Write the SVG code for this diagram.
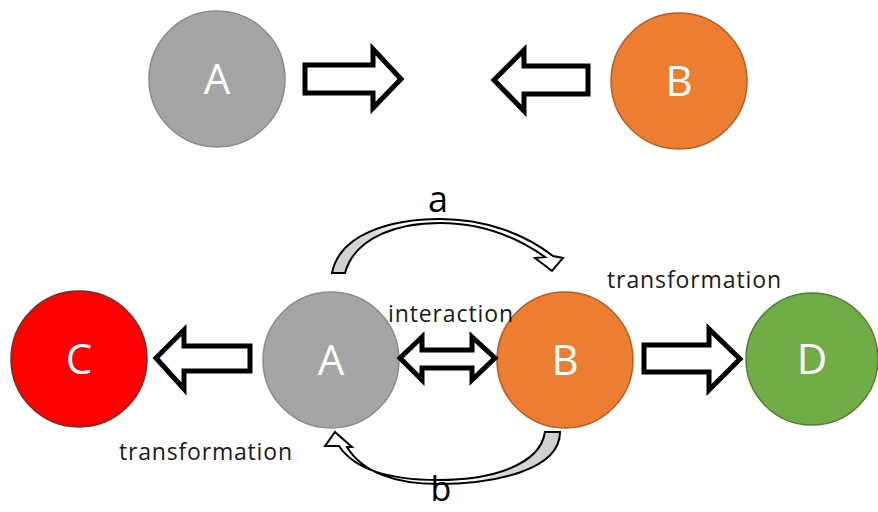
<svg xmlns="http://www.w3.org/2000/svg" width="878" height="512" viewBox="0 0 878 512">
<defs>
<style>
.node-label{font-family:"Open Sans","Liberation Sans",sans-serif;font-size:42px;fill:#ffffff;text-anchor:middle}
.lbl{font-family:"Open Sans","Liberation Sans",sans-serif;font-size:23px;fill:#1a1a1a}
.big{font-family:"Open Sans","Liberation Sans",sans-serif;font-size:36px;fill:#000000;text-anchor:middle}
.block{fill:#ffffff;stroke:#000000;stroke-width:5;stroke-linejoin:miter}
.curve{stroke:#000000;stroke-width:2;stroke-linejoin:miter}
</style>
<linearGradient id="ga" x1="0" y1="0" x2="1" y2="0">
<stop offset="0" stop-color="#cfcfcf"/>
<stop offset="0.18" stop-color="#d8d8d8"/>
<stop offset="0.3" stop-color="#ffffff"/>
<stop offset="1" stop-color="#ffffff"/>
</linearGradient>
<linearGradient id="gb" x1="1" y1="0" x2="0" y2="0">
<stop offset="0" stop-color="#cfcfcf"/>
<stop offset="0.25" stop-color="#d8d8d8"/>
<stop offset="0.4" stop-color="#ffffff"/>
<stop offset="1" stop-color="#ffffff"/>
</linearGradient>
</defs>
<rect width="878" height="512" fill="#ffffff"/>

<g id="nodeA-top">
<circle cx="217" cy="79" r="68" fill="#a5a5a5" stroke="#8a8a8a" stroke-width="1.5"/>
<text class="node-label" x="217" y="94">A</text>
</g>
<g id="nodeB-top">
<circle cx="679" cy="81" r="68" fill="#ed7d31" stroke="#b55d22" stroke-width="1.5"/>
<text class="node-label" x="679" y="96">B</text>
</g>
<g id="nodeC">
<circle cx="79" cy="359" r="68" fill="#ff0000" stroke="#6b3030" stroke-width="1.5"/>
<text class="node-label" x="79" y="374">C</text>
</g>
<g id="nodeA">
<circle cx="331" cy="360" r="68" fill="#a5a5a5" stroke="#8a8a8a" stroke-width="1.5"/>
<text class="node-label" x="331" y="375">A</text>
</g>
<g id="nodeB">
<circle cx="565" cy="360" r="68" fill="#ed7d31" stroke="#b55d22" stroke-width="1.5"/>
<text class="node-label" x="565" y="375">B</text>
</g>
<g id="nodeD">
<circle cx="812" cy="359" r="66" fill="#70ad47" stroke="#507e32" stroke-width="1.5"/>
<text class="node-label" x="812" y="374">D</text>
</g>

<g id="connectors">
<polygon class="block" points="305,65 373,65 373,49 401,79 373,108 373,93 305,93"/>
<polygon class="block" points="588,66 524,66 524,50 494,80 524,111 524,94 588,94"/>
<polygon class="block" points="250,346 184,346 184,330 156,358 184,389 184,371 250,371"/>
<polygon class="block" points="644,345 709,345 709,329 740,359 709,390 709,372 644,372"/>
<polygon class="block" points="400,358 422,337 422,350 472,350 472,337 495,358 472,380 472,368 422,368 422,380"/>
<path class="curve" fill="url(#ga)" d="M332,273 C340,232 395,219 440,219 C485,219 525,234 553,256 L563,258 L552,271 L535,258 L545,257 C518,238 482,223 440,223 C400,223 355,236 345,273 Z"/>
<path class="curve" fill="url(#gb)" d="M560,432 C560,470 495,484 438,484 C395,484 362,472 347,447 L352,447 L335,432 L325,446 L339,446 C357,473 398,480 438,480 C492,480 540,465 545,432 Z"/>
</g>

<g id="labels">
<text class="big" x="438" y="212">a</text>
<text class="big" x="441" y="501" style="font-size:34px">b</text>
<text class="lbl" x="388" y="322" textLength="125" lengthAdjust="spacing">interaction</text>
<text class="lbl" x="607" y="288" textLength="174" lengthAdjust="spacing">transformation</text>
<text class="lbl" x="119" y="460" textLength="173" lengthAdjust="spacing">transformation</text>
</g>
</svg>
